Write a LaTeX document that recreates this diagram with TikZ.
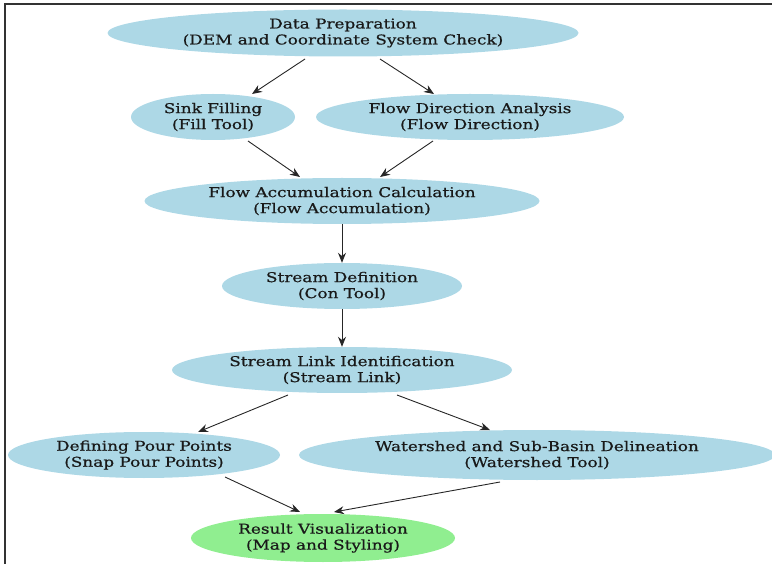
\documentclass[tikz,border=0pt]{standalone}
\usepackage{fontspec}
\setmainfont{DejaVu Serif}[FakeStretch=1.25,FakeBold=0.6]
\usetikzlibrary{shapes.geometric,arrows.meta}
\definecolor{nodeblue}{HTML}{ADD8E6}
\definecolor{nodegreen}{HTML}{90EE90}
\definecolor{framegray}{HTML}{333333}
\begin{document}
\begin{tikzpicture}[x=1pt,y=-1pt,
  proc/.style={ellipse,fill=nodeblue,inner sep=0pt,align=center,text=black!90,font=\fontsize{13.5}{16}\selectfont},
  res/.style={proc,fill=nodegreen},
  conn/.style={-{Stealth[length=10pt,width=8pt]},line width=0.9pt,black!85}]
\useasboundingbox (0,0) rectangle (772,564);
\draw[framegray,line width=1.4pt] (5,564) -- (5,4) -- (772,4);
\node[proc,minimum width=471pt,minimum height=47pt] (dp) at (343,33) {Data Preparation\\(DEM and Coordinate System Check)};
\node[proc,minimum width=164pt,minimum height=46pt] (sf) at (213,117) {Sink Filling\\(Fill Tool)};
\node[proc,minimum width=308pt,minimum height=46pt] (fd) at (470,117) {Flow Direction Analysis\\(Flow Direction)};
\node[proc,minimum width=395pt,minimum height=46pt] (fa) at (342,201) {Flow Accumulation Calculation\\(Flow Accumulation)};
\node[proc,minimum width=240pt,minimum height=46pt] (sd) at (342,286) {Stream Definition\\(Con Tool)};
\node[proc,minimum width=340pt,minimum height=46pt] (sl) at (342,370) {Stream Link Identification\\(Stream Link)};
\node[proc,minimum width=272pt,minimum height=46pt] (pp) at (144,455) {Defining Pour Points\\(Snap Pour Points)};
\node[proc,minimum width=476pt,minimum height=50pt] (ws) at (537,455) {Watershed and Sub-Basin Delineation\\(Watershed Tool)};
\node[res,minimum width=264pt,minimum height=48pt] (rv) at (323,538) {Result Visualization\\(Map and Styling)};
\coordinate (dpA) at (305,59);
\coordinate (dpB) at (380,59);
\coordinate (sfB) at (248,141);
\coordinate (fdB) at (433,141);
\coordinate (slA) at (288,395);
\coordinate (slB) at (397,395);
\coordinate (ppB) at (225,477);
\coordinate (wsB) at (500,482);
\coordinate (rvA) at (300,512);
\coordinate (rvB) at (334,512);
\draw[conn] (dpA) -- (252,94) coordinate (sfT);
\draw[conn] (dpB) -- (434,94) coordinate (fdT);
\draw[conn] (sfB) -- (300,177) coordinate (faT1);
\draw[conn] (fdB) -- (380,177) coordinate (faT2);
\draw[conn] (fa.south) -- (sd.north);
\draw[conn] (sd.south) -- (sl.north);
\draw[conn] (slA) -- (198,432) coordinate (ppT);
\draw[conn] (slB) -- (490,430) coordinate (wsT);
\draw[conn] (ppB) -- (rvA);
\draw[conn] (wsB) -- (rvB);
\end{tikzpicture}
\end{document}
